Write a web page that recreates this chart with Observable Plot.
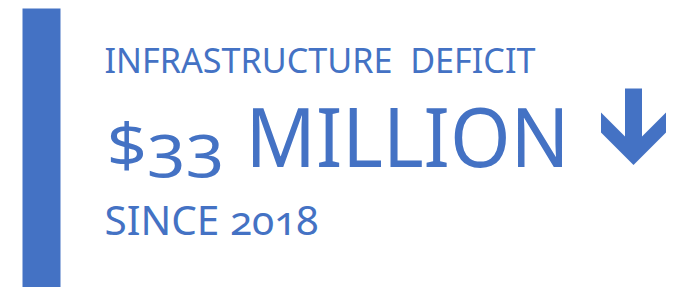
<!DOCTYPE html>
<html>
<head>
<meta charset="utf-8">
<script src="https://cdn.jsdelivr.net/npm/d3@7"></script>
<script src="https://cdn.jsdelivr.net/npm/@observablehq/plot@0.6"></script>
<style>
  html, body { margin: 0; padding: 0; background: #ffffff; }
  #chart svg { display: block; }
</style>
</head>
<body>
<div id="chart"></div>
<script>
// ---- KPI data ----
const kpiTitle = ["INFRASTRUCTURE  DEFICIT"];
const kpiValue = ["$33"];
const kpiUnit = ["MILLION"];
const kpiPeriod = ["SINCE 2018"];
const kpiTrend = ["down"];

// ---- style ----
const blue = "#4472C4";
const font = "'Noto Sans', 'Open Sans', sans-serif";

// Segoe-style block arrow, drawn pointing up (Plot vector convention), scaled by length
const arrowShape = {
  draw(context, l) {
    const s = l / 76.5;
    const pts = [[-8.5, 0], [8.5, 0], [8.5, 48], [32.5, 24], [32.5, 44], [0, 76.5], [-32.5, 44], [-32.5, 24], [-8.5, 48]];
    pts.forEach(([x, y], i) => (i ? context.lineTo(x * s, -y * s) : context.moveTo(x * s, -y * s)));
    context.closePath();
  }
};

const textStyle = {frameAnchor: "top-left", textAnchor: "start", lineAnchor: "bottom", fill: blue, fontFamily: font, text: (d) => d};

const chart = Plot.plot({
  width: 679,
  height: 287,
  margin: 0,
  style: {background: "#ffffff", overflow: "visible"},
  marks: [
    Plot.frame({fill: blue, stroke: "none", insetLeft: 22, insetRight: 619, insetTop: 8}),
    Plot.text(kpiTitle, {...textStyle, dx: 104, dy: 72, fontSize: 34}),
    Plot.text(kpiValue, {...textStyle, dx: 106, dy: 166, fontSize: 60}),
    Plot.text(kpiUnit, {...textStyle, dx: 245, dy: 166, fontSize: 83}),
    Plot.text(kpiPeriod, {...textStyle, dx: 104, dy: 234, fontSize: 40}),
    Plot.vector(kpiTrend, {
      frameAnchor: "top-left",
      dx: 633,
      dy: 88,
      anchor: "start",
      length: 76.5,
      rotate: (d) => (d === "down" ? 180 : 0),
      shape: arrowShape,
      fill: blue,
      stroke: "none"
    })
  ]
});

// fit text runs to the reference widths
const fits = new Map([[kpiTitle[0], 431], [kpiValue[0], 118], [kpiUnit[0], 324], [kpiPeriod[0], 214]]);
d3.select(chart).selectAll("text").each(function () {
  const len = fits.get(this.textContent);
  const t = d3.select(this)
    .style("white-space", "pre")
    .style("font-variant-numeric", "oldstyle-nums");
  if (len) t.attr("textLength", len).attr("lengthAdjust", "spacingAndGlyphs");
});

document.getElementById("chart").append(chart);
</script>
</body>
</html>
